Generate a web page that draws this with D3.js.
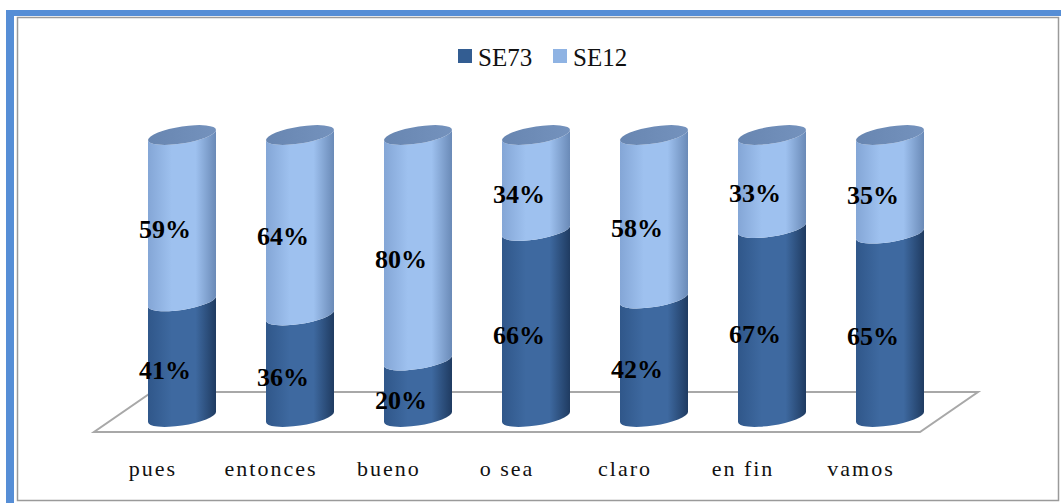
<!DOCTYPE html>
<html>
<head>
<meta charset="utf-8">
<script src="https://cdn.jsdelivr.net/npm/d3@7"></script>
<style>
  body { margin: 0; background: #fff; }
  svg { display: block; }
</style>
</head>
<body>
<div id="chart"></div>
<script>
// chart values
const categories = ['pues', 'entonces', 'bueno', 'o sea', 'claro', 'en fin', 'vamos'];
const seriesNames = ['SE73', 'SE12'];
const se73 = [41, 36, 20, 66, 42, 67, 65];
const se12 = [59, 64, 80, 34, 58, 33, 35];

const W = 1061, H = 503;
const colors = { SE73: ['#30578a', '#3e69a0', '#1f3b61'], SE12: ['#84a6d6', '#9ec1ef', '#6a8ab7'] };
const legendColors = { SE73: '#335d92', SE12: '#8fb3e3' };
const serif = '"Liberation Serif", "Times New Roman", serif';

const svg = d3.select('#chart').append('svg')
  .attr('width', W).attr('height', H);

// frame
svg.append('rect').attr('x', 17.5).attr('y', 17.5).attr('width', 1041).attr('height', 483)
  .attr('fill', '#fff').attr('stroke', '#9a9a9a').attr('stroke-width', 1.5);
svg.append('rect').attr('x', 6).attr('y', 10).attr('width', W - 6).attr('height', 6).attr('fill', '#568ed6');
svg.append('rect').attr('x', 6).attr('y', 10).attr('width', 8).attr('height', H - 10).attr('fill', '#568ed6');

// gradients
const defs = svg.append('defs');
seriesNames.forEach(s => {
  const g = defs.append('linearGradient').attr('id', 'grad-' + s)
    .attr('x1', '0%').attr('x2', '100%').attr('y1', '0%').attr('y2', '0%');
  g.append('stop').attr('offset', '0%').attr('stop-color', colors[s][0]);
  g.append('stop').attr('offset', '35%').attr('stop-color', colors[s][1]);
  g.append('stop').attr('offset', '70%').attr('stop-color', colors[s][1]);
  g.append('stop').attr('offset', '100%').attr('stop-color', colors[s][2]);
});
const capGrad = defs.append('linearGradient').attr('id', 'grad-cap')
  .attr('x1', '0%').attr('x2', '100%').attr('y1', '0%').attr('y2', '0%');
capGrad.append('stop').attr('offset', '0%').attr('stop-color', '#6886b1');
capGrad.append('stop').attr('offset', '100%').attr('stop-color', '#7492bd');

const x = d3.scaleBand().domain(categories).range([123, 949]);
const y = d3.scaleLinear().domain([0, 100]).range([417, 135]);
const depthX = 29, depthY = 20;
const floorY = 412;
const rx = 34, ry = 8.5, skew = -8.5;

// floor
const x0 = x.range()[0], x1 = x.range()[1];
svg.append('path')
  .attr('d', `M${x0 - depthX},${floorY + depthY} L${x1 - depthX},${floorY + depthY} L${x1 + depthX},${floorY - depthY} L${x0 + depthX},${floorY - depthY} Z`)
  .attr('fill', 'none').attr('stroke', '#a8a8a8').attr('stroke-width', 2);

// legend
const legend = svg.append('g').attr('transform', 'translate(458,49)');
const legX = [0, 95];
seriesNames.forEach((s, i) => {
  legend.append('rect').attr('x', legX[i]).attr('y', 0).attr('width', 14).attr('height', 14)
    .attr('fill', legendColors[s]);
  legend.append('text').attr('x', legX[i] + 20).attr('y', 17)
    .attr('font-family', serif).attr('font-size', 25)
    .attr('fill', '#111').text(s);
});

// stacked data
const rows = categories.map((c, i) => ({ cat: c, SE73: se73[i], SE12: se12[i] }));
const stack = d3.stack().keys(seriesNames)(rows);

const seg = (yTop, yBot) =>
  `M${-rx},${yTop} A${rx},${ry} 0 0 0 ${rx},${yTop} L${rx},${yBot} A${rx},${ry} 0 0 1 ${-rx},${yBot} Z`;

const bars = svg.selectAll('g.bar').data(rows).join('g')
  .attr('class', 'bar')
  .attr('transform', d => `translate(${x(d.cat) + x.bandwidth() / 2},0) skewY(${skew})`);

stack.forEach(layer => {
  bars.append('path')
    .attr('d', (d, i) => seg(y(layer[i][1]), y(layer[i][0])))
    .attr('fill', `url(#grad-${layer.key})`);
});
bars.append('ellipse').attr('cx', 0).attr('cy', y(100)).attr('rx', rx).attr('ry', ry)
  .attr('fill', 'url(#grad-cap)');

// value labels
stack.forEach(layer => {
  svg.append('g').selectAll('text').data(layer).join('text')
    .attr('x', (d, i) => x(categories[i]) + x.bandwidth() / 2 - 17)
    .attr('y', d => (y(d[0]) + y(d[1])) / 2 + 20)
    .attr('text-anchor', 'middle')
    .attr('font-family', serif)
    .attr('font-weight', 'bold').attr('font-size', 26).attr('fill', '#000')
    .text(d => (d[1] - d[0]) + '%');
});

// category labels
svg.append('g').selectAll('text').data(categories).join('text')
  .attr('x', d => x(d) + x.bandwidth() / 2 - depthX)
  .attr('y', 476)
  .attr('text-anchor', 'middle')
  .attr('font-family', serif)
  .attr('font-size', 22).attr('letter-spacing', 2).attr('fill', '#111')
  .text(d => d);
</script>
</body>
</html>
